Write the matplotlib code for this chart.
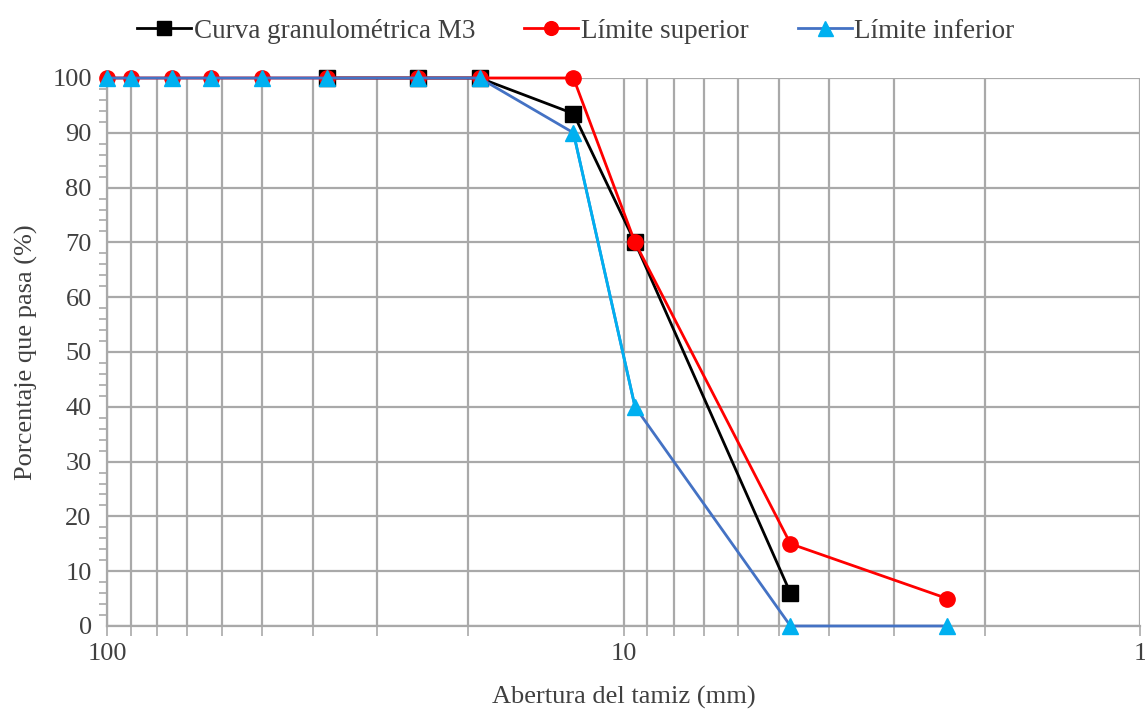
import matplotlib
matplotlib.use("Agg")
import matplotlib.pyplot as plt
from matplotlib.ticker import FixedLocator, NullFormatter, LogLocator
from matplotlib.lines import Line2D

plt.rcParams['font.family'] = ['Liberation Serif', 'DejaVu Serif']

sieves = [100, 90, 75, 63, 50, 37.5, 25, 19, 12.5, 9.5, 4.75, 2.36]
m3_x = [37.5, 25, 19, 12.5, 9.5, 4.75]
m3_y = [100, 100, 100, 93.5, 70, 6]
sup_y = [100, 100, 100, 100, 100, 100, 100, 100, 100, 70, 15, 5]
inf_y = [100, 100, 100, 100, 100, 100, 100, 100, 90, 40, 0, 0]

labels = ["Curva granulométrica M3", "Límite superior", "Límite inferior"]
text_color = "#404040"
grid_color = "#A9A9A9"
fs = 19

fig = plt.figure(figsize=(11.45, 7.09), dpi=100)
ax = fig.add_axes([107/1145, 1-626/709, (1140-107)/1145, (626-78)/709])

ax.set_xscale('log')
ax.set_xlim(100, 1)
ax.set_ylim(0, 100)

l1, = ax.plot(m3_x, m3_y, color='black', lw=2, marker='s', ms=11, zorder=3, clip_on=False)
l2, = ax.plot(sieves, sup_y, color='#FF0000', lw=2, marker='o', ms=11, zorder=4, clip_on=False)
l3, = ax.plot(sieves, inf_y, color='#4472C4', lw=2, zorder=5, clip_on=False)
ax.plot(sieves[8:10], inf_y[8:10], color='#00B0F0', lw=2, zorder=5, clip_on=False)
ax.plot(sieves, inf_y, ls='none', marker='^', ms=12, color='#00B0F0', zorder=6, clip_on=False)

h3 = Line2D([], [], color='#4472C4', lw=2, marker='^', ms=12,
            markerfacecolor='#00B0F0', markeredgecolor='#00B0F0')

ax.xaxis.set_major_locator(FixedLocator([100, 10, 1]))
ax.xaxis.set_minor_locator(LogLocator(base=10, subs=range(2, 10)))
ax.xaxis.set_minor_formatter(NullFormatter())
ax.set_xticklabels(["100", "10", "1"])
ax.set_yticks(range(0, 101, 10))
ax.set_yticks(range(0, 101, 2), minor=True)

ax.grid(True, which='major', color=grid_color, lw=1.6)
ax.grid(True, which='minor', axis='x', color=grid_color, lw=1.6)
ax.set_axisbelow(True)

for s in ['top', 'right']:
    ax.spines[s].set_visible(False)
for s in ['left', 'bottom']:
    ax.spines[s].set_color(grid_color)
    ax.spines[s].set_linewidth(1.6)

ax.tick_params(axis='both', which='both', direction='out', color=grid_color, width=1.2,
               labelcolor=text_color, labelsize=fs)
ax.tick_params(axis='x', which='both', length=7, pad=5)
ax.tick_params(axis='y', which='major', length=0, pad=11)
ax.tick_params(axis='y', which='minor', length=6)

ax.set_xlabel("Abertura del tamiz (mm)", fontsize=fs, color=text_color, labelpad=15)
ax.set_ylabel("Porcentaje que pasa (%)", fontsize=fs, color=text_color, labelpad=10)

fig.legend([l1, l2, h3], labels, loc='upper center', bbox_to_anchor=(0.503, 1.008), ncol=3,
           frameon=False, fontsize=fs + 0.5, labelcolor=text_color, handlelength=2.0,
           handletextpad=0.1, columnspacing=1.8, markerscale=0.9)

fig.savefig("out.png", dpi=100)
